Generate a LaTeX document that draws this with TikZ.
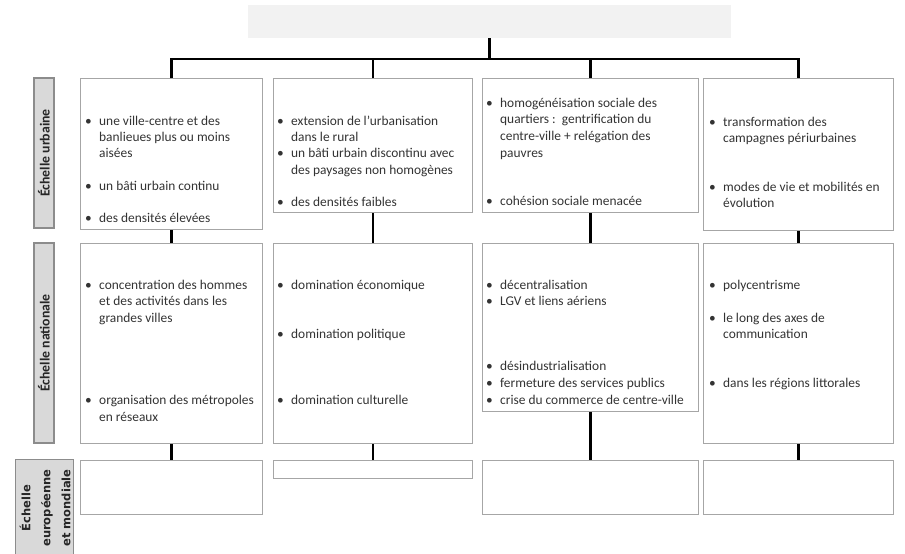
\documentclass[tikz,border=0pt]{standalone}
\usepackage{fontspec}
\setmainfont{Carlito}
\newfontfamily\lblfont{DejaVu Sans}
\definecolor{boxline}{HTML}{A6A6A6}
\definecolor{lblfill}{HTML}{D9D9D9}
\definecolor{lblline}{HTML}{8C8C8C}
\definecolor{titlefill}{HTML}{F2F2F2}
\definecolor{txtcol}{HTML}{333333}
\begin{document}
\begin{tikzpicture}[x=1pt,y=-1pt,
  box/.style={draw=boxline,line width=1.1pt,fill=white,anchor=north west,inner sep=0pt},
  lbl/.style={draw=lblline,fill=lblfill,line width=1.1pt,inner sep=0pt,text=black!85},
  conn/.style={draw=black,line width=2.6pt},
  txt/.style={anchor=base west,inner sep=0pt,text=txtcol,font=\fontsize{13.4}{16}\selectfont},
]
\clip (0,0) rectangle (905,554);
% title
\node[anchor=north west,fill=titlefill,minimum width=483pt,minimum height=33pt,inner sep=0pt] (title) at (248,5) {};
% level labels
\node[lbl,rotate=90,minimum width=150pt,minimum height=20pt,font=\bfseries\fontsize{13.8}{16}\selectfont] (L1) at (44,153) {Échelle urbaine};
\node[lbl,rotate=90,minimum width=200pt,minimum height=20pt,font=\bfseries\fontsize{13.8}{16}\selectfont] (L2) at (44,343) {Échelle nationale};
\node[lbl,anchor=north west,minimum width=58pt,minimum height=110pt] (L3) at (15,459) {};
\node[rotate=90,align=center,text=black!85,font=\lblfont\bfseries\fontsize{11.5}{20}\selectfont] (L3t) at (45,508) {Échelle\\européenne\\et mondiale};
% boxes row 1
\node[box,minimum width=182pt,minimum height=151pt] (u1) at (80,78) {};
\node[box,minimum width=199pt,minimum height=134pt] (u2) at (273,78) {};
\node[box,minimum width=216pt,minimum height=134pt] (u3) at (482,78) {};
\node[box,minimum width=190pt,minimum height=152pt] (u4) at (703,78) {};
% row 2
\node[box,minimum width=182pt,minimum height=200pt] (n1) at (80,243) {};
\node[box,minimum width=199pt,minimum height=200pt] (n2) at (273,243) {};
\node[box,minimum width=216pt,minimum height=168pt] (n3) at (482,243) {};
\node[box,minimum width=190pt,minimum height=200pt] (n4) at (703,243) {};
% row 3
\node[box,minimum width=182pt,minimum height=54pt] (e1) at (80,460) {};
\node[box,minimum width=199pt,minimum height=18pt] (e2) at (273,460) {};
\node[box,minimum width=216pt,minimum height=54pt] (e3) at (482,460) {};
\node[box,minimum width=190pt,minimum height=54pt] (e4) at (703,460) {};
% connectors
\coordinate (hub) at (title.south |- 0,59);
\draw[conn] (title.south) -- (hub);
\draw[conn] (u1.north) |- (hub) -| (u4.north);
\draw[conn] (u2.north) -- (u2.north |- hub);
\draw[conn] (u3.north) -- (u3.north |- hub);
\foreach \i in {1,2,3,4}{
  \draw[conn] (u\i.south) -- (n\i.north);
  \draw[conn] (n\i.south) -- (e\i.north);
}
% text macros
\newcommand\bitem[4]{\node[txt] (#1b) at (#2-14,#3) {\textbullet}; \node[txt] (#1) at (#2,#3) {#4};}
\newcommand\citem[4]{\node[txt] (#1) at (#2,#3) {#4};}
% row 1 texts
\bitem{ua}{99}{125}{une ville-centre et des}
\citem{ub}{99}{141}{banlieues plus ou moins}
\citem{uc}{99}{157}{aisées}
\bitem{ud}{99}{190}{un bâti urbain continu}
\bitem{ue}{99}{222}{des densités élevées}
\bitem{va}{291}{125}{extension de l’urbanisation}
\citem{vb}{291}{141}{dans le rural}
\bitem{vc}{291}{157}{un bâti urbain discontinu avec}
\citem{vd}{291}{174}{des paysages non homogènes}
\bitem{ve}{291}{206}{des densités faibles}
\bitem{wa}{500}{107}{homogénéisation sociale des}
\citem{wb}{500}{123}{quartiers :\ \ gentrification du}
\citem{wc}{500}{140}{centre-ville + relégation des}
\citem{wd}{500}{157}{pauvres}
\bitem{we}{500}{205}{cohésion sociale menacée}
\bitem{xa}{723}{126}{transformation des}
\citem{xb}{723}{142}{campagnes périurbaines}
\bitem{xc}{723}{191}{modes de vie et mobilités en}
\citem{xd}{723}{207}{évolution}
% row 2 texts
\bitem{na}{99}{289}{concentration des hommes}
\citem{nb}{99}{305}{et des activités dans les}
\citem{nc}{99}{322}{grandes villes}
\bitem{nd}{99}{404}{organisation des métropoles}
\citem{ne}{99}{421}{en réseaux}
\bitem{oa}{291}{289}{domination économique}
\bitem{ob}{291}{338}{domination politique}
\bitem{oc}{291}{404}{domination culturelle}
\bitem{pa}{500}{289}{décentralisation}
\bitem{pb}{500}{305}{LGV et liens aériens}
\bitem{pc}{500}{370}{désindustrialisation}
\bitem{pd}{500}{387}{fermeture des services publics}
\bitem{pe}{500}{404}{crise du commerce de centre-ville}
\bitem{qa}{723}{289}{polycentrisme}
\bitem{qb}{723}{322}{le long des axes de}
\citem{qc}{723}{338}{communication}
\bitem{qd}{723}{387}{dans les régions littorales}
\end{tikzpicture}
\end{document}
